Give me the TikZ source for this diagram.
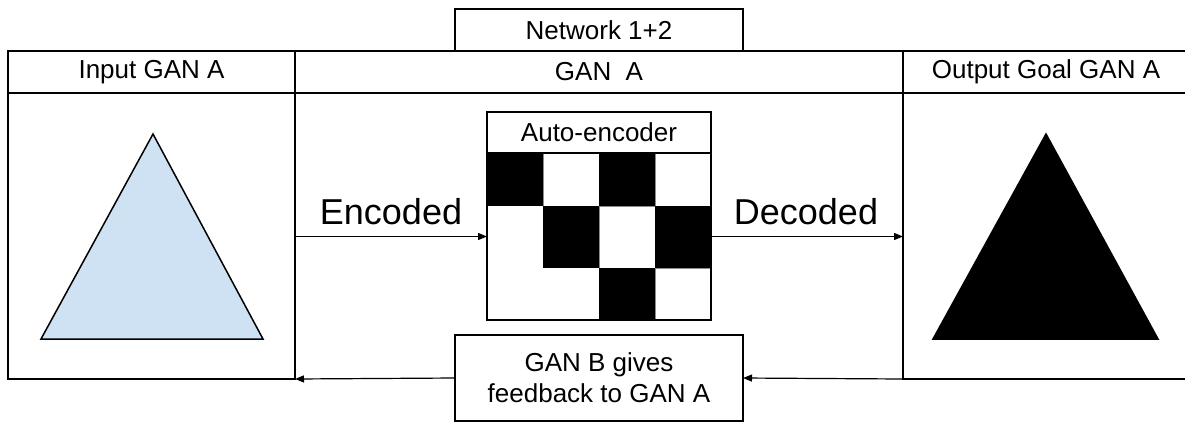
\documentclass[tikz,border=0pt]{standalone}
\usepackage{fontspec}
\setmainfont{Liberation Sans}
\usetikzlibrary{arrows.meta}
\definecolor{paleblue}{HTML}{CFE2F3}
\begin{document}
\begin{tikzpicture}[x=1pt,y=-1pt,
  frame/.style={draw, line width=2.6pt, inner sep=0pt, outer sep=0pt, anchor=north west},
  lbl/.style={font=\fontsize{26}{31}\selectfont, align=center},
  big/.style={font=\fontsize{36}{40}\selectfont, inner sep=0pt, anchor=base},
  flow/.style={-{Triangle[length=9pt,width=7pt]}, line width=1.2pt},
  shapeline/.style={line width=1.5pt, line join=miter},
  cellline/.style={draw=black!45, line width=0.8pt}]
\useasboundingbox (0,0) rectangle (1185,424);

% top label
\node[frame, lbl, minimum width=288pt, minimum height=42pt] (net) at (455,9) {Network 1+2};

% three columns with their headers
\node[frame, minimum width=287pt, minimum height=328pt] (inbox) at (8,51) {};
\node[frame, lbl, minimum width=287pt, minimum height=42pt] (inhead) at (8,51) {Input GAN A};
\node[frame, lbl, minimum width=608pt, minimum height=42pt] (ganhead) at (295,51) {GAN~\ A};
\node[frame, minimum width=286pt, minimum height=328pt] (outbox) at (903,51) {};
\node[frame, lbl, minimum width=286pt, minimum height=42pt] (outhead) at (903,51) {Output Goal GAN A};

% triangles
\draw[shapeline, fill=paleblue] (153,134) -- (263,339) -- (41,339) -- cycle;
\draw[shapeline, fill=black] (1046,134) -- (1158,339) -- (933,339) -- cycle;

% auto-encoder grid
\draw[cellline] (543,153) rectangle (599,206);
\draw[cellline] (655,153) rectangle (711,206);
\draw[cellline] (599,206) rectangle (655,268);
\draw[cellline] (655,268) rectangle (711,320);
\fill (487,153) rectangle (543,206);
\fill (599,153) rectangle (655,206);
\fill (543,206) rectangle (599,268);
\fill (655,206) rectangle (711,268);
\fill (599,268) rectangle (655,320);
\node[inner sep=0pt, outer sep=0pt, anchor=north west, minimum width=224pt, minimum height=167pt] (grid) at (487,153) {};
\node[frame, minimum width=224pt, minimum height=208pt] (ae) at (487,112) {};
\node[frame, lbl, minimum width=224pt, minimum height=41pt] (aehead) at (487,112) {Auto-encoder};

% feedback box
\node[frame, lbl, minimum width=288pt, minimum height=86pt] (ganb) at (455,335) {GAN B gives\\feedback to GAN A};

% connectors
\draw[flow] (inbox.east |- grid.west) -- (grid.west);
\draw[flow] (grid.east) -- (outbox.west |- grid.east);
\draw[flow] (outbox.south west) -- (ganb.east);
\draw[flow] (ganb.west) -- (inbox.south east);

% connector labels
\node[big] (enc) at (391,224) {Encoded};
\node[big] (dec) at (806,224) {Decoded};
\end{tikzpicture}
\end{document}
